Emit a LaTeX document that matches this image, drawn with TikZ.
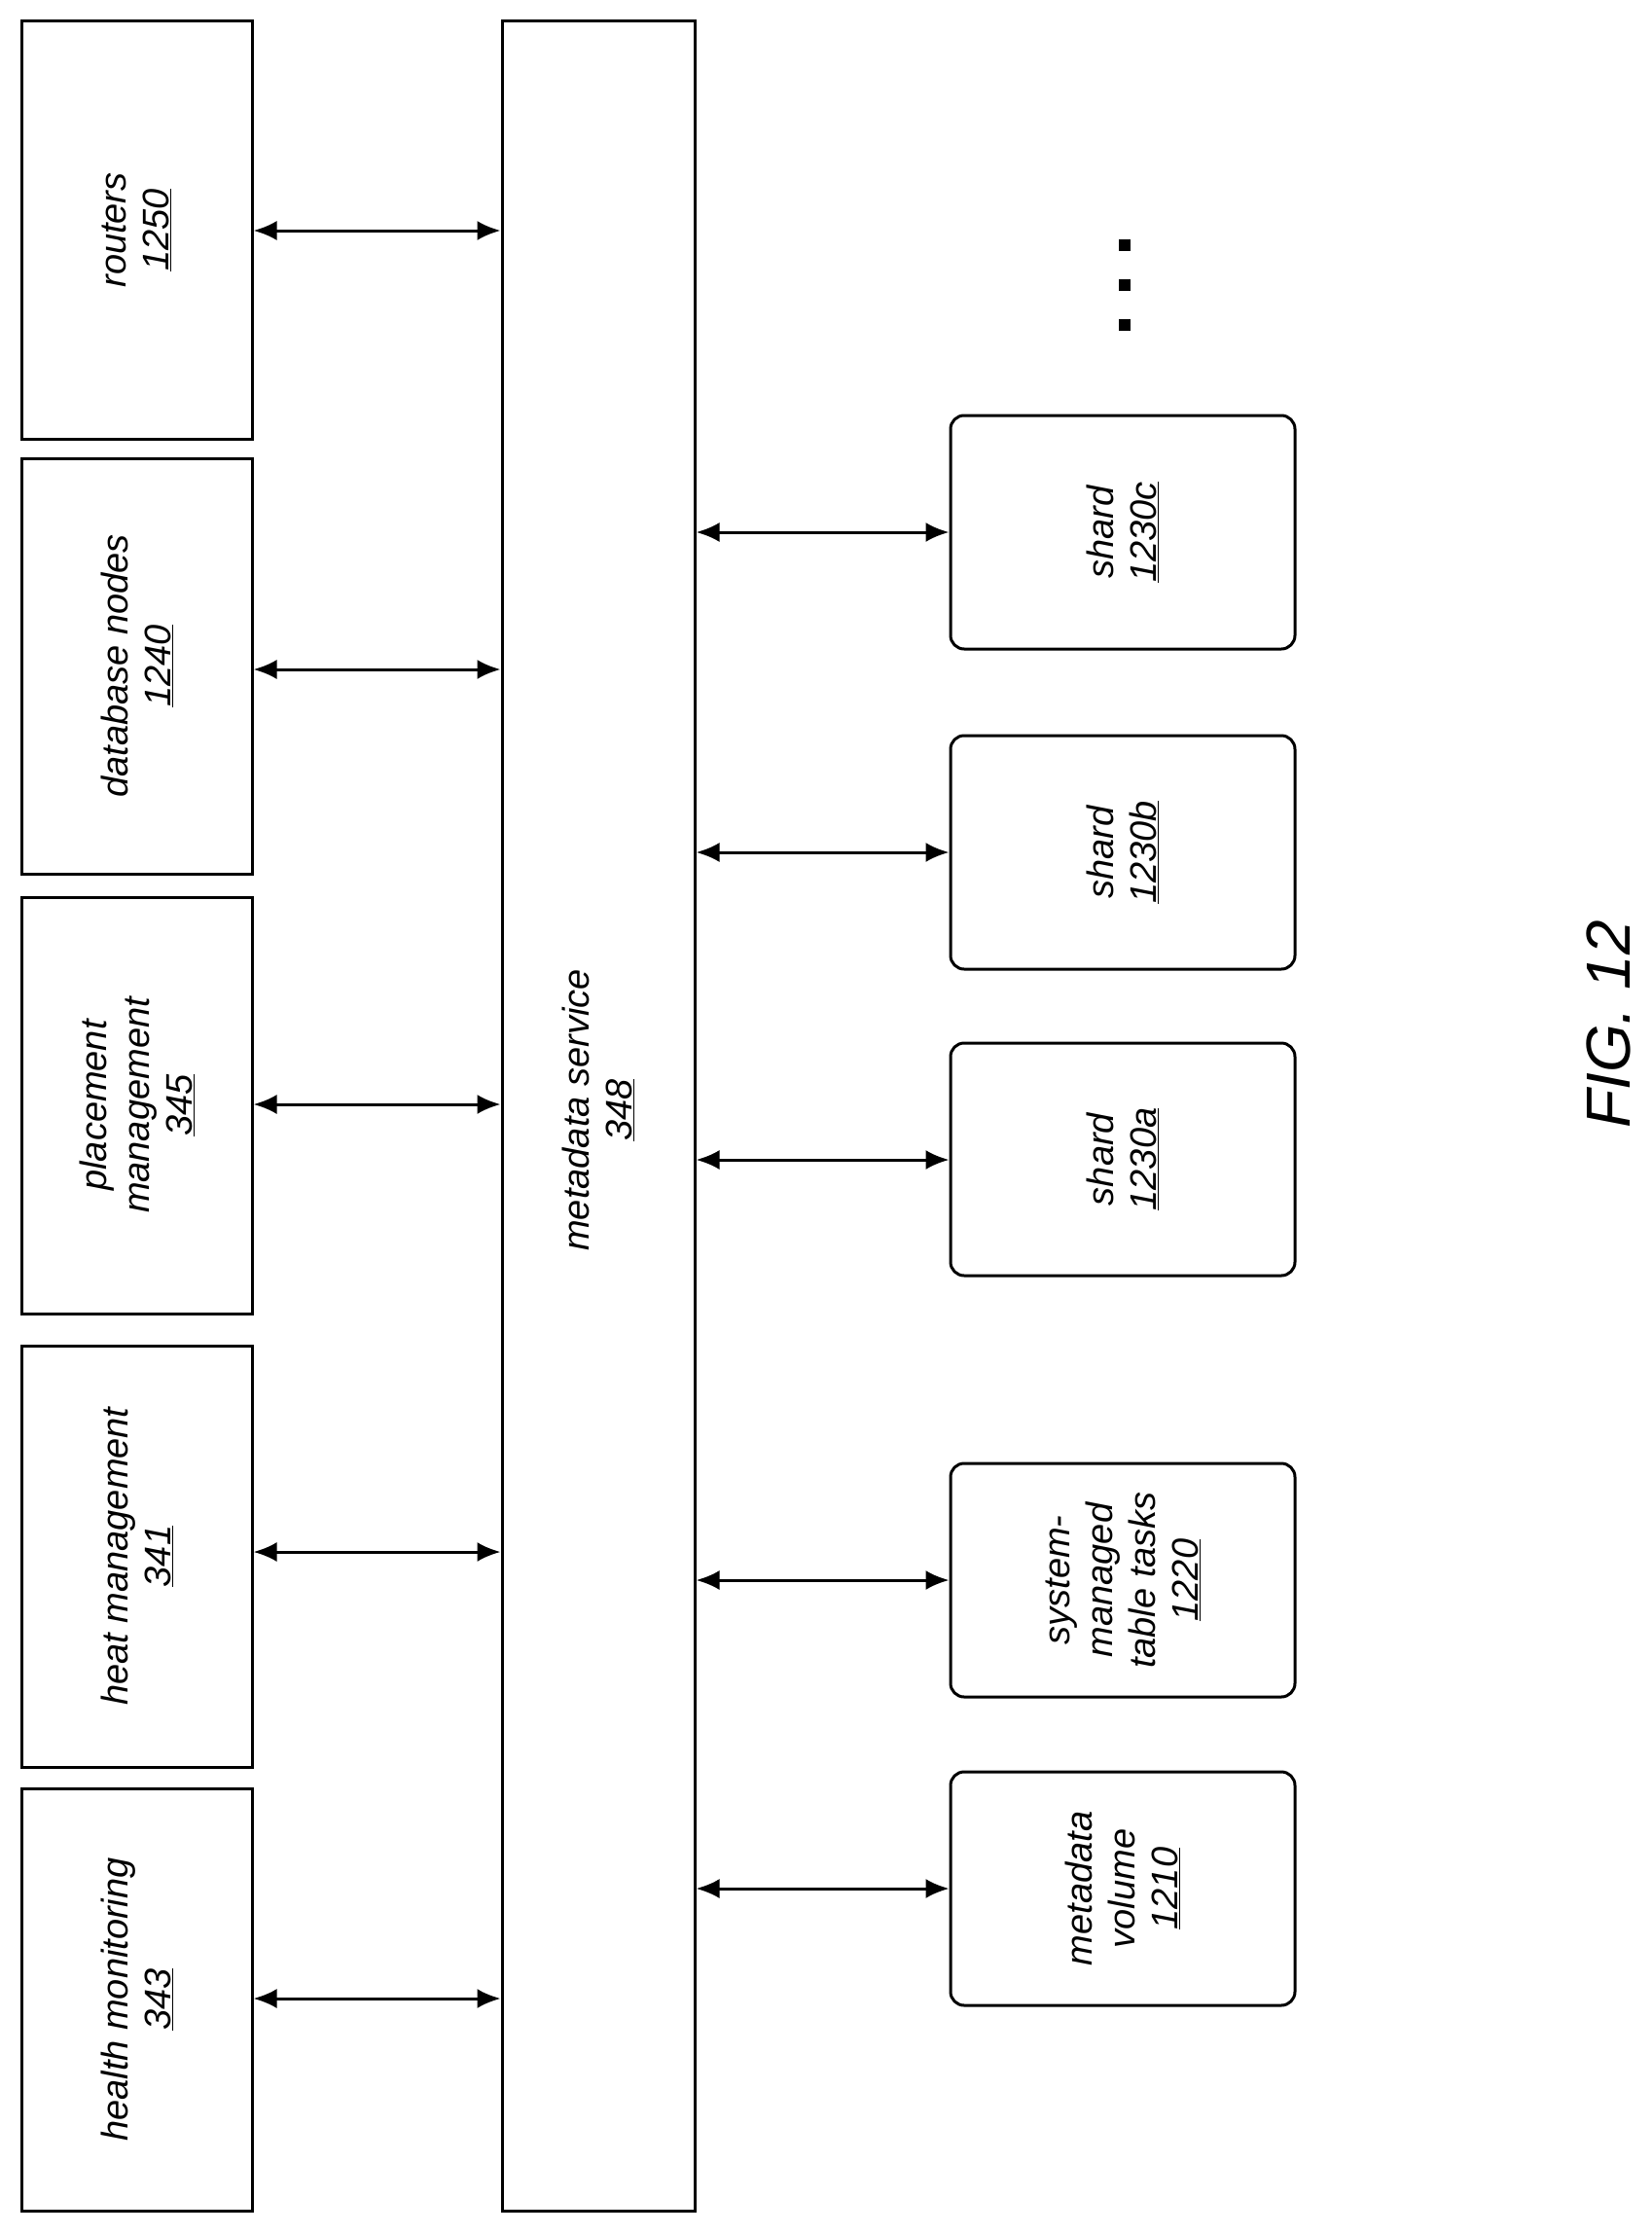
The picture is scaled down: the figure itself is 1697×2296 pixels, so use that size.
\documentclass[tikz,border=0pt]{standalone}
\usepackage{fontspec}
\setmainfont{Liberation Sans}
\usetikzlibrary{arrows.meta}
\begin{document}
\begin{tikzpicture}[x=1pt,y=1pt,
  box/.style={draw,line width=3pt,inner sep=0pt},
  rbox/.style={box,rounded corners=14pt},
  lbl/.style={rotate=90,align=center,font=\fontsize{38}{44}\selectfont\itshape},
  arr/.style={line width=3pt,{Latex[length=24pt,width=20pt]}-{Latex[length=24pt,width=20pt]}}]
\useasboundingbox (0,0) rectangle (1697,-2296);
% left boxes
\foreach \n/\ya/\yb in {r/22/451,d/471/898,p/922/1350,h/1383/1816,m/1838/2272}{
  \pgfmathsetmacro\hh{\yb-\ya}
  \node[box,minimum width=237pt,minimum height=\hh pt] (\n) at (140.5,{-(\ya+\yb)/2}) {};
}
\node[lbl] (rl) at (r) {routers\\\underline{1250}};
\node[lbl] (dl) at (d) {database nodes\\\underline{1240}};
\node[lbl] (pl) at (p) {placement\\management\\\underline{345}};
\node[lbl] (hl) at (h) {heat management\\\underline{341}};
\node[lbl] (ml) at (m) {health monitoring\\\underline{343}};
% metadata service
\node[box,minimum width=198pt,minimum height=2250pt] (ms) at (615,-1147) {};
\node[lbl] (msl) at (615,-1141) {metadata service\\\underline{348}};
% right boxes
\foreach \n/\ya/\yb in {sc/427/667,sb/756/996,sa/1072/1311,st/1504/1744,mv/1821/2061}{
  \pgfmathsetmacro\hh{\yb-\ya}
  \node[rbox,minimum width=354pt,minimum height=\hh pt] (\n) at (1154,{-(\ya+\yb)/2}) {};
}
\node[lbl] (scl) at (sc) {shard\\\underline{1230c}};
\node[lbl] (sbl) at (sb) {shard\\\underline{1230b}};
\node[lbl] (sal) at (sa) {shard\\\underline{1230a}};
\node[lbl] (stl) at (st) {system-\\managed\\table tasks\\\underline{1220}};
\node[lbl] (mvl) at (mv) {metadata\\volume\\\underline{1210}};
% arrows
\foreach \n/\y in {r/237,d/688,p/1135,h/1595,m/2054}{
  \draw[arr] (\n.east |- 0,-\y) -- (ms.west |- 0,-\y);
}
\foreach \n/\y in {sc/547,sb/876,sa/1192,st/1624,mv/1941}{
  \draw[arr] (ms.east |- 0,-\y) -- (\n.west |- 0,-\y);
}
% dots
\foreach \y in {252,293,334}{\fill (1150,-\y+6) rectangle (1162,-\y-6);}
\node[rotate=90,font=\fontsize{64}{70}\selectfont\itshape] (fig) at (1653,-1053) {FIG. 12};
\end{tikzpicture}
\end{document}
